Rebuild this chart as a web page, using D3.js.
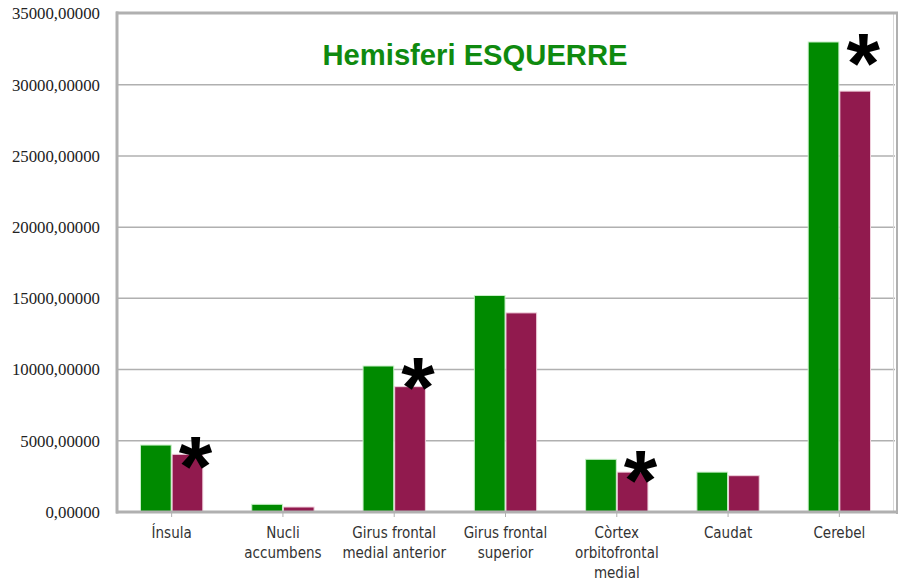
<!DOCTYPE html>
<html>
<head>
<meta charset="utf-8">
<script src="https://cdn.jsdelivr.net/npm/d3@7"></script>
<style>
  body { margin: 0; background: #fff; }
</style>
</head>
<body>
<div id="chart"></div>
<script>
// Dades

let categories = ["Ínsula", "Nucli accumbens", "Girus frontal medial anterior", "Girus frontal superior",
  "Còrtex orbitofrontal medial", "Caudat", "Cerebel"];
let catLines = [["Ínsula"], ["Nucli", "accumbens"], ["Girus frontal", "medial anterior"], ["Girus frontal", "superior"],
  ["Còrtex", "orbitofrontal", "medial"], ["Caudat"], ["Cerebel"]];
let seriesNames = ["A", "B"];
let valuesA = [4700, 540, 10250, 15200, 3700, 2800, 33000];
let valuesB = [4050, 350, 8800, 13980, 2800, 2550, 29550];
let significant = [true, false, true, false, true, false, true];
let yTicks = [0, 5000, 10000, 15000, 20000, 25000, 30000, 35000];
let titleText = "Hemisferi ESQUERRE";

// Canvas

let width = 905;
let height = 582;
let pLeft = 116, pRight = 895, pTop = 13.5, pBottom = 512;

let svg = d3.select("#chart").append("svg")
  .attr("width", width)
  .attr("height", height);

let colors = d3.scaleOrdinal().domain(seriesNames).range(["#008a00", "#911a4e"]);
let strokes = d3.scaleOrdinal().domain(seriesNames).range(["#c8f0c8", "#f0d0dc"]);

// Escales

let x = d3.scaleBand()
  .domain(categories)
  .range([pLeft, pRight])
  .paddingInner(0.44)
  .paddingOuter(0.22);

let xs = d3.scaleBand()
  .domain(seriesNames)
  .range([0, x.bandwidth()])
  .paddingInner(0.03);

let y = d3.scaleLinear()
  .domain([0, 35000])
  .range([pBottom, pTop]);

let loc = d3.formatLocale({ decimal: ",", thousands: "", grouping: [3], currency: ["", ""] });
let fmt = loc.format(".5f");

// Graella

svg.append("g").selectAll("line")
  .data(yTicks.filter(d => d > 0 && d < 35000))
  .enter().append("line")
  .attr("x1", pLeft).attr("x2", pRight)
  .attr("y1", d => y(d)).attr("y2", d => y(d))
  .attr("stroke", "#b0b0b0")
  .attr("stroke-width", 1.5);

// Marc
svg.append("line").attr("x1", pRight - 1.5).attr("x2", pRight - 1.5).attr("y1", pTop).attr("y2", pBottom)
  .attr("stroke", "#d8d8d8").attr("stroke-width", 1);
svg.append("line").attr("x1", pRight + 2).attr("x2", pRight + 2).attr("y1", pTop - 1).attr("y2", pBottom + 2)
  .attr("stroke", "#b0b0b0").attr("stroke-width", 2);
svg.append("line").attr("x1", pLeft).attr("x2", pRight + 3).attr("y1", pTop - 0.5).attr("y2", pTop - 0.5)
  .attr("stroke", "#b0b0b0").attr("stroke-width", 3);

// Barres

let groups = svg.append("g").selectAll("g")
  .data(categories)
  .enter().append("g")
  .attr("transform", d => `translate(${x(d)},0)`);

groups.selectAll("rect")
  .data((d, i) => [{ s: "A", v: valuesA[i] }, { s: "B", v: valuesB[i] }])
  .enter().append("rect")
  .attr("x", d => xs(d.s))
  .attr("y", d => y(d.v))
  .attr("width", xs.bandwidth())
  .attr("height", d => pBottom - y(d.v))
  .attr("fill", d => colors(d.s))
  .attr("stroke", d => strokes(d.s))
  .attr("stroke-width", 1);

// Eixos
svg.append("line").attr("x1", pLeft + 1).attr("x2", pLeft + 1).attr("y1", pTop - 2).attr("y2", pBottom + 1.5)
  .attr("stroke", "#b0b0b0").attr("stroke-width", 3);
svg.append("line").attr("x1", pLeft).attr("x2", pRight + 3).attr("y1", pBottom).attr("y2", pBottom)
  .attr("stroke", "#b0b0b0").attr("stroke-width", 3);

svg.append("g").selectAll("line")
  .data(categories)
  .enter().append("line")
  .attr("x1", d => x(d) + x.bandwidth() / 2).attr("x2", d => x(d) + x.bandwidth() / 2)
  .attr("y1", pBottom).attr("y2", pBottom + 5)
  .attr("stroke", "#b0b0b0").attr("stroke-width", 1);

svg.append("g").selectAll("text")
  .data(yTicks)
  .enter().append("text")
  .attr("x", 100)
  .attr("y", d => y(d))
  .attr("dy", "0.35em")
  .attr("text-anchor", "end")
  .attr("font-family", "Liberation Serif, serif")
  .attr("font-size", 16.8)
  .attr("fill", "#222")
  .text(d => fmt(d));

let labels = svg.append("g").selectAll("text")
  .data(categories)
  .enter().append("text")
  .attr("x", d => x(d) + x.bandwidth() / 2)
  .attr("y", 538)
  .attr("text-anchor", "middle")
  .attr("font-family", "DejaVu Sans Condensed, Liberation Sans Narrow, sans-serif")
  .attr("font-size", 15)
  .attr("fill", "#333");

labels.selectAll("tspan")
  .data((d, i) => catLines[i])
  .enter().append("tspan")
  .attr("x", function () { return d3.select(this.parentNode).attr("x"); })
  .attr("dy", (d, i) => i === 0 ? 0 : 20)
  .text(d => d);

// Asteriscs

svg.append("g").selectAll("text")
  .data(categories.filter((d, i) => significant[i]))
  .enter().append("text")
  .attr("x", d => x(d) + xs("B") + xs.bandwidth() / 2 + 8)
  .attr("y", d => y(valuesA[categories.indexOf(d)]) + 7 + 44)
  .attr("text-anchor", "middle")
  .attr("font-family", "Liberation Sans, sans-serif")
  .attr("font-weight", "bold")
  .attr("font-size", 86)
  .attr("fill", "#000")
  .text("*");

// Títol

svg.append("text")
  .attr("x", 475)
  .attr("y", 65)
  .attr("text-anchor", "middle")
  .attr("font-family", "Liberation Sans, sans-serif")
  .attr("font-weight", "bold")
  .attr("font-size", 29)
  .attr("fill", "#0f8a0f")
  .attr("textLength", 305)
  .attr("lengthAdjust", "spacingAndGlyphs")
  .text(titleText);
</script>
</body>
</html>
